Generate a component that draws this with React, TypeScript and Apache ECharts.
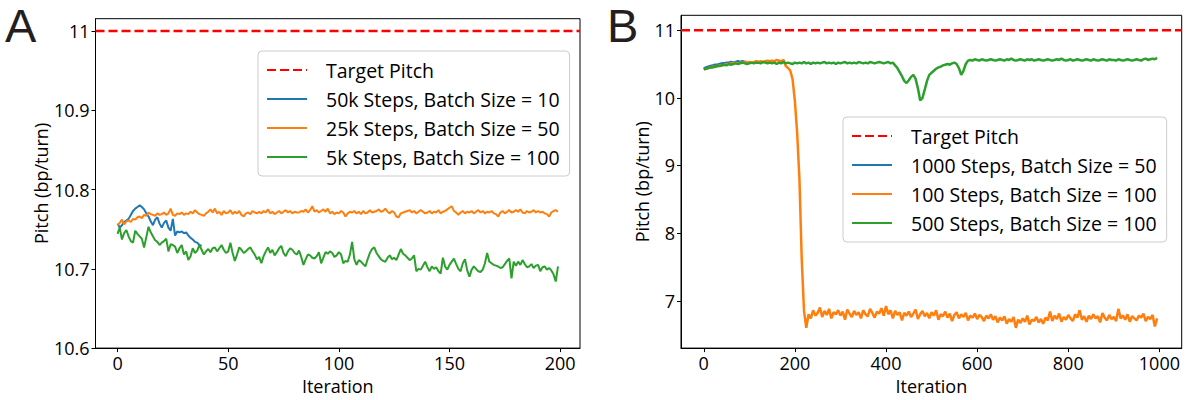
import React, { useEffect, useRef } from "react";
import * as echarts from "echarts";

const FONT = "'Open Sans', 'Noto Sans', sans-serif";
const LETTER_FONT = "'Liberation Sans', 'DejaVu Sans', sans-serif";
const TARGET_PITCH = 11;

// Panel A (one value per iteration)
const A_BLUE = [
  10.757, 10.752, 10.755, 10.759, 10.761, 10.763, 10.768, 10.773, 10.776, 10.778,
  10.780, 10.778, 10.775, 10.770, 10.766, 10.760, 10.755, 10.762, 10.765, 10.757,
  10.752, 10.758, 10.761, 10.752, 10.748, 10.763, 10.742, 10.747, 10.746, 10.747,
  10.745, 10.746, 10.742, 10.739, 10.737, 10.734, 10.733, 10.730, 10.729,
];
const A_ORANGE = [
  10.755, 10.758, 10.762, 10.756, 10.760, 10.761, 10.759, 10.763, 10.762, 10.765,
  10.766, 10.764, 10.768, 10.767, 10.771, 10.769, 10.768, 10.767, 10.770, 10.768,
  10.769, 10.771, 10.768, 10.770, 10.776, 10.768, 10.767, 10.770, 10.769, 10.771,
  10.768, 10.770, 10.769, 10.772, 10.770, 10.774, 10.771, 10.769, 10.768, 10.767,
  10.770, 10.772, 10.775, 10.771, 10.776, 10.770, 10.772, 10.768, 10.773, 10.770,
  10.771, 10.774, 10.769, 10.772, 10.770, 10.773, 10.768, 10.766, 10.770, 10.771,
  10.769, 10.773, 10.771, 10.770, 10.772, 10.770, 10.773, 10.771, 10.775, 10.770,
  10.772, 10.769, 10.771, 10.773, 10.770, 10.772, 10.774, 10.771, 10.773, 10.770,
  10.772, 10.771, 10.771, 10.773, 10.772, 10.775, 10.771, 10.774, 10.779, 10.772,
  10.774, 10.771, 10.773, 10.775, 10.772, 10.776, 10.770, 10.772, 10.769, 10.771,
  10.770, 10.773, 10.771, 10.766, 10.770, 10.772, 10.771, 10.773, 10.770, 10.772,
  10.769, 10.773, 10.770, 10.771, 10.774, 10.771, 10.772, 10.773, 10.775, 10.772,
  10.773, 10.776, 10.772, 10.770, 10.773, 10.771, 10.766, 10.765, 10.770, 10.771,
  10.772, 10.773, 10.774, 10.771, 10.773, 10.770, 10.772, 10.774, 10.772, 10.770,
  10.771, 10.773, 10.770, 10.772, 10.771, 10.774, 10.770, 10.772, 10.773, 10.775,
  10.777, 10.779, 10.773, 10.771, 10.768, 10.771, 10.773, 10.770, 10.772, 10.771,
  10.773, 10.770, 10.772, 10.774, 10.771, 10.773, 10.770, 10.772, 10.771, 10.773,
  10.770, 10.769, 10.766, 10.771, 10.773, 10.770, 10.772, 10.774, 10.771, 10.772,
  10.774, 10.772, 10.775, 10.771, 10.770, 10.773, 10.771, 10.772, 10.774, 10.771,
  10.773, 10.771, 10.772, 10.770, 10.769, 10.766, 10.771, 10.773, 10.774, 10.772,
];
const A_GREEN = [
  10.744, 10.752, 10.737, 10.745, 10.749, 10.741, 10.735, 10.733, 10.748, 10.744,
  10.741, 10.738, 10.727, 10.740, 10.753, 10.746, 10.741, 10.736, 10.734, 10.730,
  10.733, 10.735, 10.738, 10.722, 10.731, 10.730, 10.728, 10.720, 10.726, 10.730,
  10.718, 10.722, 10.711, 10.716, 10.726, 10.720, 10.723, 10.730, 10.724, 10.718,
  10.722, 10.725, 10.721, 10.726, 10.727, 10.722, 10.726, 10.730, 10.724, 10.720,
  10.722, 10.733, 10.720, 10.710, 10.718, 10.727, 10.724, 10.720, 10.722, 10.725,
  10.727, 10.722, 10.718, 10.712, 10.715, 10.707, 10.716, 10.722, 10.727, 10.720,
  10.724, 10.717, 10.721, 10.726, 10.729, 10.720, 10.716, 10.722, 10.726, 10.724,
  10.720, 10.718, 10.723, 10.715, 10.705, 10.712, 10.718, 10.717, 10.714, 10.713,
  10.716, 10.721, 10.707, 10.714, 10.721, 10.719, 10.722, 10.720, 10.715, 10.717,
  10.721, 10.718, 10.707, 10.710, 10.709, 10.718, 10.734, 10.712, 10.705, 10.711,
  10.709, 10.706, 10.703, 10.712, 10.720, 10.725, 10.727, 10.720, 10.716, 10.712,
  10.710, 10.709, 10.714, 10.717, 10.712, 10.714, 10.711, 10.718, 10.725, 10.719,
  10.717, 10.714, 10.711, 10.713, 10.717, 10.697, 10.700, 10.699, 10.704, 10.709,
  10.702, 10.697, 10.703, 10.700, 10.702, 10.697, 10.694, 10.714, 10.703, 10.699,
  10.705, 10.709, 10.713, 10.706, 10.700, 10.697, 10.707, 10.712, 10.698, 10.690,
  10.699, 10.703, 10.700, 10.697, 10.696, 10.699, 10.707, 10.720, 10.709, 10.707,
  10.705, 10.704, 10.703, 10.701, 10.702, 10.706, 10.710, 10.713, 10.688, 10.709,
  10.704, 10.709, 10.705, 10.711, 10.706, 10.702, 10.703, 10.706, 10.701, 10.704,
  10.705, 10.697, 10.702, 10.703, 10.699, 10.701, 10.698, 10.693, 10.684, 10.703,
];

// Panel B (one value every B_STEP iterations)
const B_STEP = 5;
const B_BLUE = [
  10.43, 10.45, 10.46, 10.47, 10.48, 10.49, 10.49, 10.50, 10.51, 10.51,
  10.52, 10.52, 10.53, 10.52, 10.53, 10.54, 10.53, 10.54, 10.53, 10.53,
];
const B_ORANGE = [
  10.42, 10.43, 10.44, 10.45, 10.46, 10.46, 10.47, 10.48, 10.48, 10.49,
  10.50, 10.50, 10.51, 10.51, 10.52, 10.51, 10.52, 10.52, 10.53, 10.52,
  10.53, 10.52, 10.53, 10.54, 10.53, 10.54, 10.53, 10.54, 10.55, 10.54,
  10.55, 10.54, 10.56, 10.55, 10.54, 10.56, 10.47, 10.44, 10.40, 10.27,
  9.95, 9.48, 8.80, 7.62, 6.85, 6.60, 6.80, 6.74, 6.86, 6.78,
  6.82, 6.90, 6.76, 6.85, 6.79, 6.88, 6.74, 6.83, 6.80, 6.86,
  6.78, 6.84, 6.72, 6.87, 6.81, 6.76, 6.85, 6.79, 6.83, 6.74,
  6.86, 6.80, 6.77, 6.88, 6.82, 6.75, 6.84, 6.81, 6.89, 6.78,
  6.92, 6.80, 6.86, 6.74, 6.85, 6.79, 6.83, 6.71, 6.82, 6.78,
  6.84, 6.76, 6.81, 6.87, 6.73, 6.80, 6.85, 6.77, 6.82, 6.74,
  6.83, 6.78, 6.86, 6.72, 6.80, 6.77, 6.84, 6.75, 6.81, 6.70,
  6.79, 6.83, 6.74, 6.80, 6.76, 6.82, 6.71, 6.78, 6.75, 6.81,
  6.73, 6.79, 6.76, 6.70, 6.78, 6.74, 6.80, 6.72, 6.77, 6.68,
  6.75, 6.71, 6.77, 6.66, 6.73, 6.69, 6.76, 6.60, 6.72, 6.67,
  6.74, 6.69, 6.78, 6.65, 6.72, 6.70, 6.76, 6.68, 6.73, 6.66,
  6.75, 6.71, 6.84, 6.70, 6.78, 6.73, 6.81, 6.69, 6.76, 6.72,
  6.79, 6.74, 6.70, 6.80, 6.75, 6.86, 6.72, 6.77, 6.69, 6.78,
  6.73, 6.80, 6.74, 6.77, 6.68, 6.82, 6.75, 6.71, 6.79, 6.73,
  6.76, 6.70, 6.88, 6.74, 6.78, 6.72, 6.80, 6.69, 6.77, 6.74,
  6.71, 6.78, 6.75, 6.81, 6.70, 6.76, 6.73, 6.79, 6.62, 6.74,
];
const B_GREEN = [
  10.42, 10.43, 10.44, 10.45, 10.45, 10.46, 10.47, 10.47, 10.48, 10.49,
  10.48, 10.50, 10.49, 10.50, 10.51, 10.50, 10.51, 10.52, 10.51, 10.50,
  10.51, 10.52, 10.51, 10.52, 10.52, 10.51, 10.53, 10.52, 10.51, 10.52,
  10.51, 10.52, 10.50, 10.52, 10.51, 10.53, 10.51, 10.52, 10.51, 10.50,
  10.52, 10.51, 10.52, 10.51, 10.53, 10.51, 10.52, 10.50, 10.52, 10.51,
  10.52, 10.51, 10.52, 10.53, 10.51, 10.52, 10.51, 10.52, 10.50, 10.52,
  10.51, 10.52, 10.53, 10.51, 10.52, 10.51, 10.52, 10.51, 10.53, 10.52,
  10.51, 10.52, 10.51, 10.53, 10.52, 10.51, 10.52, 10.53, 10.52, 10.51,
  10.52, 10.53, 10.51, 10.52, 10.48, 10.44, 10.38, 10.32, 10.25, 10.22,
  10.26, 10.31, 10.34, 10.28, 10.14, 9.96, 10.00, 10.12, 10.25, 10.34,
  10.37, 10.40, 10.43, 10.45, 10.46, 10.48, 10.49, 10.50, 10.49, 10.51,
  10.52, 10.50, 10.44, 10.34, 10.40, 10.50, 10.55, 10.56, 10.55, 10.57,
  10.56, 10.55, 10.57, 10.56, 10.55, 10.56, 10.57, 10.56, 10.55, 10.56,
  10.57, 10.56, 10.55, 10.57, 10.56, 10.58, 10.56, 10.55, 10.56, 10.57,
  10.56, 10.55, 10.57, 10.56, 10.57, 10.55, 10.56, 10.57, 10.56, 10.55,
  10.56, 10.57, 10.56, 10.55, 10.56, 10.57, 10.56, 10.58, 10.56, 10.55,
  10.56, 10.57, 10.55, 10.56, 10.57, 10.56, 10.55, 10.56, 10.57, 10.56,
  10.55, 10.57, 10.56, 10.55, 10.56, 10.57, 10.56, 10.55, 10.57, 10.56,
  10.56, 10.55, 10.57, 10.56, 10.55, 10.56, 10.57, 10.56, 10.55, 10.56,
  10.57, 10.56, 10.55, 10.57, 10.58, 10.56, 10.57, 10.58, 10.57, 10.59,
];

const A_NAMES = [
  "Target Pitch",
  "50k Steps, Batch Size = 10",
  "25k Steps, Batch Size = 50",
  "5k Steps, Batch Size = 100",
];
const B_NAMES = [
  "Target Pitch",
  "1000 Steps, Batch Size = 50",
  "100 Steps, Batch Size = 100",
  "500 Steps, Batch Size = 100",
];
const A_X_TICKS = [0, 50, 100, 150, 200];
const A_Y_TICKS = [10.6, 10.7, 10.8, 10.9, 11];
const B_X_TICKS = [0, 200, 400, 600, 800, 1000];
const B_Y_TICKS = [7, 8, 9, 10, 11];
const A_X_RANGE = [-9.95, 208.95];
const A_Y_RANGE = [10.6, 11.0155];
const B_X_RANGE = [-49.95, 1048.95];
const B_Y_RANGE = [6.3, 11.22];

const BLUE = "#1f77b4";
const ORANGE = "#ff7f0e";
const GREEN = "#2ca02c";
const RED = "#ff0000";

function makeAxis(gridIndex: number, range: number[], ticks: number[], name: string, nameGap: number) {
  return {
    type: "value",
    gridIndex,
    min: range[0],
    max: range[1],
    name,
    nameLocation: "middle",
    nameGap,
    nameTextStyle: { color: "#000", fontSize: 18, fontFamily: FONT },
    axisLine: { show: true, onZero: false, lineStyle: { color: "#000", width: 1 } },
    axisTick: { show: true, length: 4, customValues: ticks, lineStyle: { color: "#000", width: 1 } },
    axisLabel: {
      show: true,
      customValues: ticks,
      color: "#000",
      fontSize: 18,
      fontFamily: FONT,
      margin: 6,
      formatter: (v: number) => String(Math.round(v * 1000) / 1000),
    },
    splitLine: { show: false },
  };
}

function legendFor(names: string[], left: number, top: number) {
  return {
    data: names,
    left,
    top,
    orient: "vertical",
    itemWidth: 40,
    itemHeight: 2,
    itemGap: 9,
    padding: [9, 10, 9, 8],
    backgroundColor: "rgba(255,255,255,0.8)",
    borderColor: "#cccccc",
    borderWidth: 1,
    borderRadius: 4,
    selectedMode: false,
    itemStyle: { opacity: 0 },
    textStyle: { color: "#000", fontSize: 19.5, fontFamily: FONT, lineHeight: 20, padding: [0, 0, 0, 14] },
  };
}

export default function App() {
  const ref = useRef<HTMLDivElement>(null);
  useEffect(() => {
    if (!ref.current) return;
    const chart = echarts.init(ref.current, null, { renderer: "svg" });
    const line = (name: string, color: string, data: number[][], xi: number, width: number, z: number) => ({
      type: "line",
      name,
      xAxisIndex: xi,
      yAxisIndex: xi,
      data,
      symbol: "none",
      showSymbol: false,
      z,
      lineStyle: { color, width },
      itemStyle: { color },
      emphasis: { disabled: true },
    });
    const target = (xi: number, range: number[]) => ({
      type: "line",
      name: "Target Pitch",
      xAxisIndex: xi,
      yAxisIndex: xi,
      data: [
        [range[0], TARGET_PITCH],
        [range[1], TARGET_PITCH],
      ],
      symbol: "none",
      showSymbol: false,
      z: 2,
      lineStyle: { color: RED, width: 2.5, type: [9, 4] },
      itemStyle: { color: RED },
      emphasis: { disabled: true },
    });
    chart.setOption({
      animation: false,
      backgroundColor: "#fff",
      grid: [
        { left: 95.5, top: 18.7, width: 484.5, height: 334, show: true, borderColor: "#000", borderWidth: 1, backgroundColor: "transparent" },
        { left: 681, top: 15.3, width: 500.7, height: 334.7, show: true, borderColor: "#000", borderWidth: 1, backgroundColor: "transparent" },
      ],
      xAxis: [
        makeAxis(0, A_X_RANGE, A_X_TICKS, "Iteration", 24),
        makeAxis(1, B_X_RANGE, B_X_TICKS, "Iteration", 24),
      ],
      yAxis: [
        makeAxis(0, A_Y_RANGE, A_Y_TICKS, "Pitch (bp/turn)", 42),
        makeAxis(1, B_Y_RANGE, B_Y_TICKS, "Pitch (bp/turn)", 22),
      ],
      legend: [legendFor(A_NAMES, 258, 51), legendFor(B_NAMES, 843, 117)],
      graphic: [
        { type: "text", left: 5, top: 2, style: { text: "A", fontSize: 47, fontFamily: LETTER_FONT, fill: "#231f20" } },
        { type: "text", left: 607, top: 2, style: { text: "B", fontSize: 47, fontFamily: LETTER_FONT, fill: "#231f20" } },
      ],
      series: [
        target(0, A_X_RANGE),
        line(A_NAMES[1], BLUE, A_BLUE.map((v, i) => [i, v]), 0, 2, 3),
        line(A_NAMES[2], ORANGE, A_ORANGE.map((v, i) => [i, v]), 0, 2, 4),
        line(A_NAMES[3], GREEN, A_GREEN.map((v, i) => [i, v]), 0, 2, 5),
        target(1, B_X_RANGE),
        line(B_NAMES[1], BLUE, B_BLUE.map((v, k) => [k * B_STEP, v]), 1, 2.5, 3),
        line(B_NAMES[2], ORANGE, B_ORANGE.map((v, k) => [k * B_STEP, v]), 1, 2.5, 4),
        line(B_NAMES[3], GREEN, B_GREEN.map((v, k) => [k * B_STEP, v]), 1, 2.5, 5),
      ],
    });
    return () => chart.dispose();
  }, []);
  return <div ref={ref} style={{ position: "absolute", left: 0, top: 0, width: 1189, height: 400 }} />;
}
